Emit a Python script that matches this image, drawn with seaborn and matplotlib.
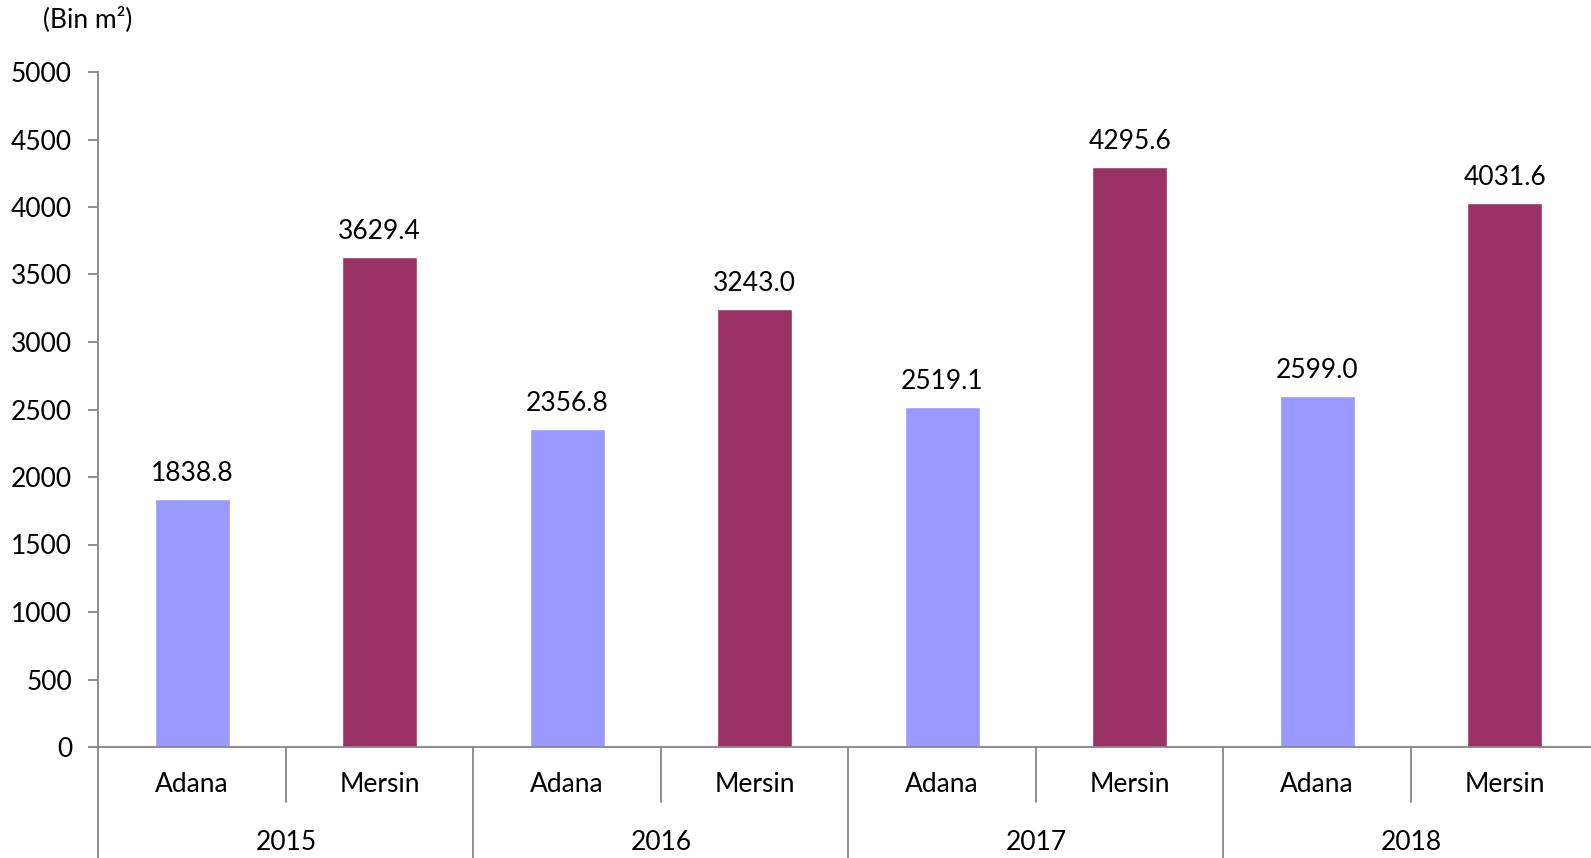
import matplotlib
matplotlib.use("Agg")
import matplotlib.pyplot as plt
import seaborn as sns
import pandas as pd

years = ["2015", "2016", "2017", "2018"]
cities = ["Adana", "Mersin"]
adana = [1838.8, 2356.8, 2519.1, 2599.0]
mersin = [3629.4, 3243.0, 4295.6, 4031.6]
colors = {"Adana": "#9999FF", "Mersin": "#993366"}

rows = []
for i, y in enumerate(years):
    rows.append({"slot": f"{y}-Adana", "city": "Adana", "year": y, "value": adana[i]})
    rows.append({"slot": f"{y}-Mersin", "city": "Mersin", "year": y, "value": mersin[i]})
df = pd.DataFrame(rows)

sns.set_theme(style="white")
plt.rcParams["font.family"] = ["Lato", "DejaVu Sans"]

FS = 19

fig = plt.figure(figsize=(15.91, 8.58), dpi=100)
ax = fig.add_axes([98.4 / 1591, 1 - 747 / 858, (1591 - 98.4) / 1591, (747 - 72) / 858])

sns.barplot(data=df, x="slot", y="value", hue="city", palette=colors,
            dodge=False, width=0.4, legend=False, ax=ax, saturation=1)

slot_px = 187.5
ax.set_xlim(-0.5, -0.5 + (1591 - 98.4) / slot_px)
ax.set_ylim(0, 5000)
ax.set_yticks(range(0, 5001, 500))
ax.set_yticklabels([str(v) for v in range(0, 5001, 500)], fontsize=FS)
ax.set_xticks([])
ax.set_xlabel("")
ax.set_ylabel("")

axis_col = "#868686"
for s in ["top", "right"]:
    ax.spines[s].set_visible(False)
for s in ["left", "bottom"]:
    ax.spines[s].set_color(axis_col)
    ax.spines[s].set_linewidth(1.3)
ax.tick_params(axis="y", which="both", left=True, length=7, width=1.3,
               color=axis_col, pad=12, labelcolor="black")

# value labels above bars
for i, v in enumerate(df["value"]):
    ax.text(i, v + 95, f"{v:.1f}", ha="center", va="bottom", fontsize=FS, color="black")

# category separators and labels under the axis
tr = ax.get_xaxis_transform()
for k in range(9):
    x = k - 0.5
    depth = -0.2 if k % 2 == 0 else -0.081
    ax.plot([x, x], [0, depth], transform=tr, color=axis_col, lw=1.3, clip_on=False)

for i, row in df.iterrows():
    ax.text(i, -0.056, row["city"], transform=tr, ha="center", va="center",
            fontsize=FS, color="black")
for j, y in enumerate(years):
    ax.text(2 * j + 0.5, -0.141, y, transform=tr, ha="center", va="center",
            fontsize=FS, color="black")

fig.text(43 / 1591, 1 - 19 / 858, "(Bin m²)", ha="left", va="center",
         fontsize=FS, color="black")

fig.savefig("out.png", dpi=100)
